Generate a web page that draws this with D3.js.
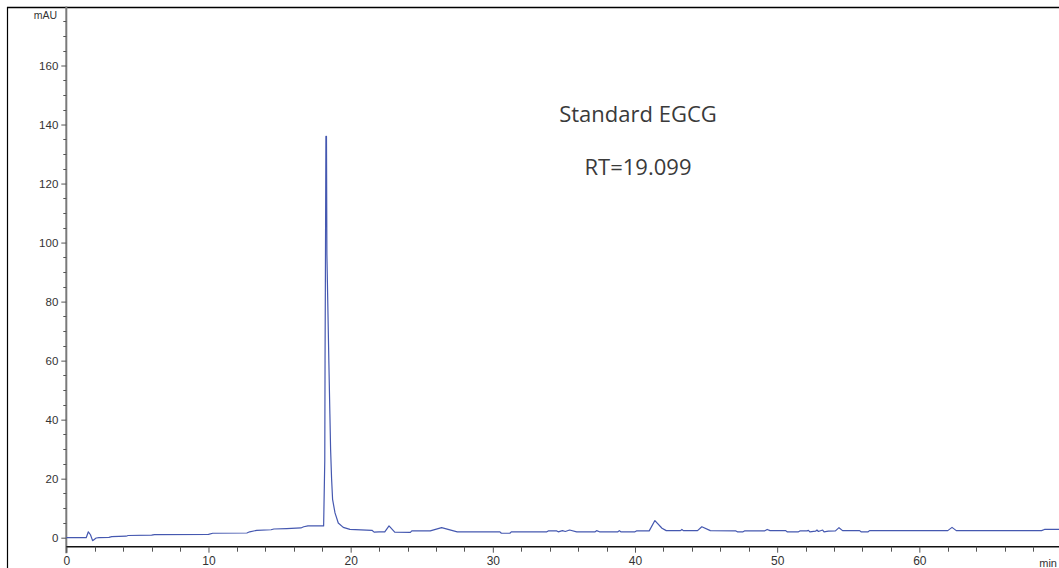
<!DOCTYPE html>
<html>
<head>
<meta charset="utf-8">
<script src="https://cdn.jsdelivr.net/npm/d3@7"></script>
<style>
  html, body { margin: 0; padding: 0; background: #fff; overflow: hidden; }
  svg { display: block; }
</style>
</head>
<body>
<svg id="chart" width="1059" height="568"></svg>
<script>
// Retention time (min) and absorbance (mAU)
const rtMin = [0, 1.4, 1.55, 1.7, 1.85, 2.1, 2.3, 3.0, 3.2, 4.2, 4.35, 6.0, 6.2, 10.0, 10.3, 12.7, 12.9, 13.4, 14.4, 14.6,
  15.5, 16.5, 16.7, 17.0, 18.1, 18.18, 18.2, 18.22, 18.26, 18.3, 18.33, 18.47, 18.54, 18.59, 18.66, 18.73, 18.9, 19.13, 19.48, 19.95,
  21.5, 21.65, 22.0, 22.4, 22.7, 23.1, 24.2, 24.3, 25.6, 26.4, 27.5, 30.5, 30.6, 31.2, 31.3, 33.8, 33.9, 34.5, 34.6, 34.9,
  35.1, 35.4, 35.9, 37.2, 37.3, 37.5, 38.8, 38.9, 39.0, 40.0, 40.1, 41.0, 41.4, 41.9, 42.2, 43.2, 43.3, 43.4, 44.4, 44.7,
  45.3, 47.1, 47.2, 47.6, 47.7, 49.1, 49.3, 49.5, 50.6, 50.7, 51.5, 51.6, 52.1, 52.2, 52.3, 52.7, 52.8, 52.9, 53.2, 53.3,
  53.6, 54.1, 54.35, 54.6, 55.8, 55.9, 56.4, 56.5, 62.0, 62.3, 62.6, 68.6, 68.8, 70];
const absorbance = [0, 0, 2.0, 1.0, -1.0, -0.1, 0.0, 0.1, 0.35, 0.5, 0.75, 0.9, 1.05, 1.15, 1.5, 1.6, 2.0, 2.5, 2.7, 2.95,
  3.1, 3.3, 3.7, 4.0, 4.0, 26, 60, 83, 136, 136, 96, 59, 42, 30, 20, 13, 8.4, 5.0, 3.5, 2.8,
  2.5, 1.9, 2.0, 2.0, 4.0, 1.9, 1.8, 2.3, 2.3, 3.4, 2.0, 2.0, 1.5, 1.5, 2.0, 2.0, 2.3, 2.3, 2.0, 2.4,
  2.1, 2.6, 2.0, 2.0, 2.4, 2.0, 2.0, 2.4, 2.0, 2.0, 2.3, 2.3, 5.8, 3.2, 2.4, 2.4, 2.8, 2.4, 2.4, 3.7,
  2.4, 2.3, 2.0, 2.0, 2.3, 2.3, 2.8, 2.4, 2.4, 2.0, 2.0, 2.3, 2.3, 2.5, 2.0, 2.2, 2.6, 2.1, 2.6, 2.0,
  2.2, 2.3, 3.4, 2.4, 2.4, 2.0, 2.0, 2.4, 2.4, 3.5, 2.4, 2.4, 2.8, 2.8];

const xMajorTicks = [0, 10, 20, 30, 40, 50, 60];
const xMinorTicks = [2, 4, 6, 8, 12, 14, 16, 18, 22, 24, 26, 28, 32, 34, 36, 38, 42, 44, 46, 48, 52, 54, 56, 58, 62, 64, 66, 68];
const yMajorTicks = [0, 20, 40, 60, 80, 100, 120, 140, 160];
const yMinorTicks = d3.range(5, 180, 5).filter(v => v % 20 !== 0);
const yUnit = "mAU";
const xUnit = "min";
const titleLines = ["Standard EGCG", "RT=19.099"];

const svg = d3.select("#chart");

const x = d3.scaleLinear().domain([0, 70]).range([66.3, 1061.5]);
const y = d3.scaleLinear().domain([0, 160]).range([537.7, 65.5]);
const yAxisBottom = -5.3, yAxisTop = 180, xAxisAt = -3.05;

// Frame
svg.append("line").attr("x1", 7.5).attr("x2", 7.5).attr("y1", 7).attr("y2", 568)
  .attr("stroke", "#000").attr("stroke-width", 1.2);
svg.append("line").attr("x1", 7).attr("x2", 1059).attr("y1", 7.5).attr("y2", 7.5)
  .attr("stroke", "#000").attr("stroke-width", 1.5);

// Y axis
const yAxisG = svg.append("g").attr("transform", `translate(${x(0)},0)`);
yAxisG.append("line").attr("x1", 0).attr("x2", 0)
  .attr("y1", y(yAxisTop)).attr("y2", y(yAxisBottom))
  .attr("stroke", "#7a7a7a").attr("stroke-width", 2);
yAxisG.selectAll("line.minor").data(yMinorTicks).enter().append("line")
  .attr("class", "minor").attr("x1", -3).attr("x2", 0)
  .attr("y1", d => Math.round(y(d)) + 0.5).attr("y2", d => Math.round(y(d)) + 0.5)
  .attr("stroke", "#555").attr("stroke-width", 1);
const yAxis = d3.axisLeft(y).tickValues(yMajorTicks).tickSize(5).tickPadding(3).tickFormat(d3.format("d"));
const yAxisTicks = svg.append("g").attr("transform", `translate(${x(0)},0)`).call(yAxis);
yAxisTicks.select(".domain").remove();
yAxisTicks.selectAll(".tick line").attr("stroke", "#555");
yAxisTicks.selectAll("text").attr("font-family", "'Liberation Sans', Arial, sans-serif")
  .attr("font-size", 11.5).attr("fill", "#333");
svg.append("text").attr("x", 57).attr("y", 18.5).attr("text-anchor", "end")
  .attr("font-family", "'Liberation Sans', Arial, sans-serif").attr("font-size", 10.5)
  .attr("fill", "#333").text(yUnit);

// X axis
const xAxisY = y(xAxisAt);
svg.append("line").attr("x1", x(0)).attr("x2", 1059).attr("y1", xAxisY).attr("y2", xAxisY)
  .attr("stroke", "#111").attr("stroke-width", 1.5);
const xAxisG = svg.append("g").attr("transform", `translate(0,${xAxisY})`);
xAxisG.selectAll("line.minor").data(xMinorTicks).enter().append("line")
  .attr("class", "minor").attr("y1", 0).attr("y2", 5)
  .attr("x1", d => Math.round(x(d)) + 0.5).attr("x2", d => Math.round(x(d)) + 0.5)
  .attr("stroke", "#555").attr("stroke-width", 1);
const xAxis = d3.axisBottom(x).tickValues(xMajorTicks).tickSize(6).tickPadding(4).tickFormat(d3.format("d"));
const xAxisTicks = svg.append("g").attr("transform", `translate(0,${xAxisY})`).call(xAxis);
xAxisTicks.select(".domain").remove();
xAxisTicks.selectAll(".tick line").attr("stroke", "#555");
xAxisTicks.selectAll("text").attr("font-family", "'Liberation Sans', Arial, sans-serif")
  .attr("font-size", 12).attr("fill", "#333");
svg.append("text").attr("x", 1057).attr("y", xAxisY + 20.5).attr("text-anchor", "end")
  .attr("font-family", "'Liberation Sans', Arial, sans-serif").attr("font-size", 11)
  .attr("fill", "#333").text(xUnit);

// Trace
const data = rtMin.map((t, i) => ({ t, v: absorbance[i] }));
const line = d3.line().x(d => x(d.t)).y(d => y(d.v)).curve(d3.curveLinear);
svg.append("path").datum(data).attr("d", line)
  .attr("fill", "none").attr("stroke", "#4558b0").attr("stroke-width", 1.2)
  .attr("stroke-linejoin", "round");

// Annotation
svg.append("text").attr("x", 638).attr("y", 121.5).attr("text-anchor", "middle")
  .attr("font-family", "'Open Sans', 'Noto Sans', sans-serif").attr("font-size", 22)
  .attr("fill", "#3a3a3a").text(titleLines[0]);
svg.append("text").attr("x", 638).attr("y", 175).attr("text-anchor", "middle")
  .attr("font-family", "'Open Sans', 'Noto Sans', sans-serif").attr("font-size", 22)
  .attr("fill", "#3a3a3a").text(titleLines[1]);
</script>
</body>
</html>
